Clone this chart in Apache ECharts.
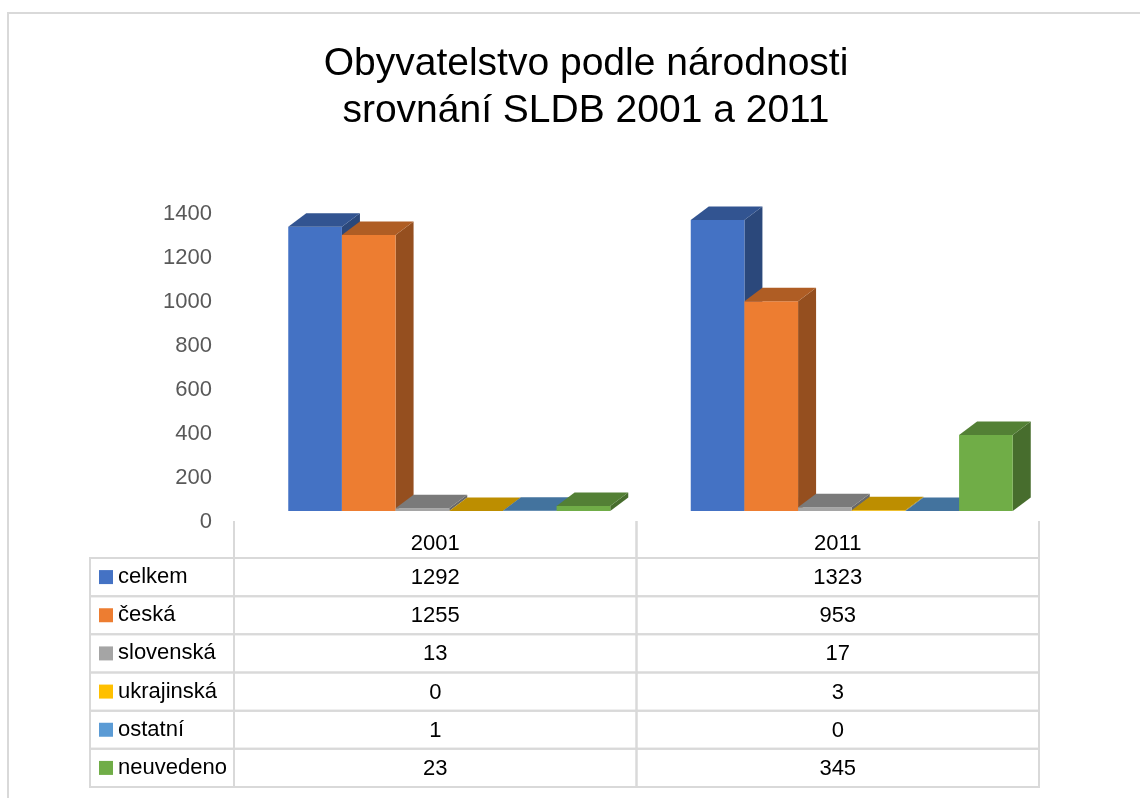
<!DOCTYPE html>
<html>
<head>
<meta charset="utf-8">
<script src="https://cdn.jsdelivr.net/npm/echarts@6/dist/echarts.min.js"></script>
<style>
html,body{margin:0;padding:0;background:#fff;}
#chart{width:1140px;height:798px;}
</style>
</head>
<body>
<div id="chart"></div>
<script>
// ---- data ----
const categories = ['2001', '2011'];
const seriesNames = ['celkem', 'česká', 'slovenská', 'ukrajinská', 'ostatní', 'neuvedeno'];
const celkem = [1292, 1323];
const ceska = [1255, 953];
const slovenska = [13, 17];
const ukrajinska = [0, 3];
const ostatni = [1, 0];
const neuvedeno = [23, 345];
const yMin = 0, yMax = 1400, yInterval = 200;
const titleText = 'Obyvatelstvo podle národnosti\nsrovnání SLDB 2001 a 2011';

const seriesValues = [celkem, ceska, slovenska, ukrajinska, ostatni, neuvedeno];

// ---- style ----
const colors = ['#4472C4', '#ED7D31', '#A5A5A5', '#FFC000', '#5B9BD5', '#70AD47'];
const FONT = 'Liberation Sans';
const DX = 18, DY = -13.5;
const nBars = seriesNames.length;

function shade(hex, f) {
  const n = parseInt(hex.slice(1), 16);
  const r = Math.round(((n >> 16) & 255) * f);
  const g = Math.round(((n >> 8) & 255) * f);
  const b = Math.round((n & 255) * f);
  return 'rgb(' + r + ',' + g + ',' + b + ')';
}

function bar3D(sIdx) {
  const c = colors[sIdx];
  const topC = shade(c, 0.74);
  const sideC = shade(c, 0.63);
  return function (params, api) {
    const cat = api.value(0);
    const v = api.value(1);
    const top = api.coord([cat, v]);
    const base = api.coord([cat, 0]);
    const catW = api.size([1, 0])[0];
    const bw = catW * 0.8 / nBars;
    const x0 = top[0] + (sIdx - nBars / 2) * bw;
    const yT = top[1], yB = base[1];
    return {
      type: 'group',
      children: [
        {
          type: 'polygon',
          shape: { points: [[x0 + bw, yT], [x0 + bw + DX, yT + DY], [x0 + bw + DX, yB + DY], [x0 + bw, yB]] },
          style: { fill: sideC }
        },
        {
          type: 'rect',
          shape: { x: x0, y: yT, width: bw, height: yB - yT },
          style: { fill: c }
        },
        {
          type: 'polygon',
          shape: { points: [[x0, yT], [x0 + DX, yT + DY], [x0 + bw + DX, yT + DY], [x0 + bw, yT]] },
          style: { fill: topC }
        }
      ]
    };
  };
}

const barSeries = seriesNames.map(function (name, s) {
  return {
    type: 'custom',
    name: name,
    xAxisIndex: 0,
    yAxisIndex: 0,
    renderItem: bar3D(s),
    data: seriesValues[s].map(function (v, i) { return [i, v]; }),
    encode: { x: 0, y: 1 },
    z: 2
  };
});

// table cells
const tableData = [];
seriesValues.forEach(function (vals, i) {
  vals.forEach(function (v, j) { tableData.push([j, i, v]); });
});

const LINE = '#D9D9D9';
const LEGEND_LEFT = 90;
const TFONT = 22;

const tableSeries = {
  type: 'custom',
  xAxisIndex: 2,
  yAxisIndex: 2,
  data: tableData,
  encode: { x: 0, y: 1 },
  renderItem: function (params, api) {
    const j = api.value(0), i = api.value(1), v = api.value(2);
    const c = api.coord([j, i]);
    const sz = api.size([1, 1]);
    const w = sz[0], h = sz[1];
    const L = c[0] - w / 2, T = c[1] - h / 2;
    const children = [
      { type: 'rect', shape: { x: L, y: T, width: w, height: h }, style: { fill: 'none', stroke: LINE, lineWidth: 2 } },
      { type: 'text', style: { text: String(v), x: c[0], y: c[1] + 1, align: 'center', verticalAlign: 'middle', fill: '#000', font: TFONT + 'px "' + FONT + '"' } }
    ];
    if (j === 0) {
      children.push({ type: 'rect', shape: { x: LEGEND_LEFT, y: T, width: L - LEGEND_LEFT, height: h }, style: { fill: 'none', stroke: LINE, lineWidth: 2 } });
    }
    if (i === 0) {
      children.push({ type: 'line', shape: { x1: L, y1: T - 37, x2: L, y2: T }, style: { stroke: LINE, lineWidth: 2 } });
      children.push({ type: 'line', shape: { x1: L + w, y1: T - 37, x2: L + w, y2: T }, style: { stroke: LINE, lineWidth: 2 } });
    }
    return { type: 'group', children: children };
  }
};

const rich = { t: { fontFamily: FONT, fontSize: TFONT, color: '#000', padding: [0, 0, 0, 5] } };
colors.forEach(function (c, k) {
  rich['sq' + k] = { backgroundColor: c, width: 14, height: 14 };
});

const option = {
  animation: false,
  backgroundColor: '#fff',
  title: {
    text: titleText,
    left: 581,
    top: 36,
    textAlign: 'center',
    textStyle: { fontFamily: FONT, fontSize: 39, fontWeight: 'normal', color: '#000', lineHeight: 47 }
  },
  graphic: [
    { type: 'rect', shape: { x: 8, y: 13, width: 1200, height: 900 }, style: { fill: 'none', stroke: LINE, lineWidth: 2 }, silent: true }
  ],
  grid: [
    { left: 248, right: 87, top: 203, height: 308 },   // bars
    { left: 248, right: 87, top: 214, height: 308 },   // value labels
    { left: 234, right: 101, top: 558, height: 229 }   // data table
  ],
  xAxis: [
    { gridIndex: 0, type: 'category', data: categories, show: false },
    { gridIndex: 1, type: 'category', data: categories, show: false },
    {
      gridIndex: 2, type: 'category', data: categories, position: 'top',
      axisLine: { show: false }, axisTick: { show: false }, splitLine: { show: false },
      axisLabel: { fontFamily: FONT, fontSize: TFONT, color: '#000', margin: 3 }
    }
  ],
  yAxis: [
    { gridIndex: 0, type: 'value', min: yMin, max: yMax, interval: yInterval, show: false },
    {
      gridIndex: 1, type: 'value', min: yMin, max: yMax, interval: yInterval,
      axisLine: { show: false }, axisTick: { show: false }, splitLine: { show: false },
      axisLabel: { fontFamily: FONT, fontSize: TFONT, color: '#595959', margin: 36, formatter: function (v) { return String(v); } }
    },
    {
      gridIndex: 2, type: 'category', data: seriesNames, inverse: true,
      axisLine: { show: false }, axisTick: { show: false }, splitLine: { show: false },
      axisLabel: {
        align: 'left', margin: 135,
        formatter: function (val, idx) { return '{sq' + idx + '|}{t|' + val + '}'; },
        rich: rich
      }
    }
  ],
  series: barSeries.concat([tableSeries])
};

const chart = echarts.init(document.getElementById('chart'), null, { renderer: 'canvas' });
chart.setOption(option);
</script>
</body>
</html>
